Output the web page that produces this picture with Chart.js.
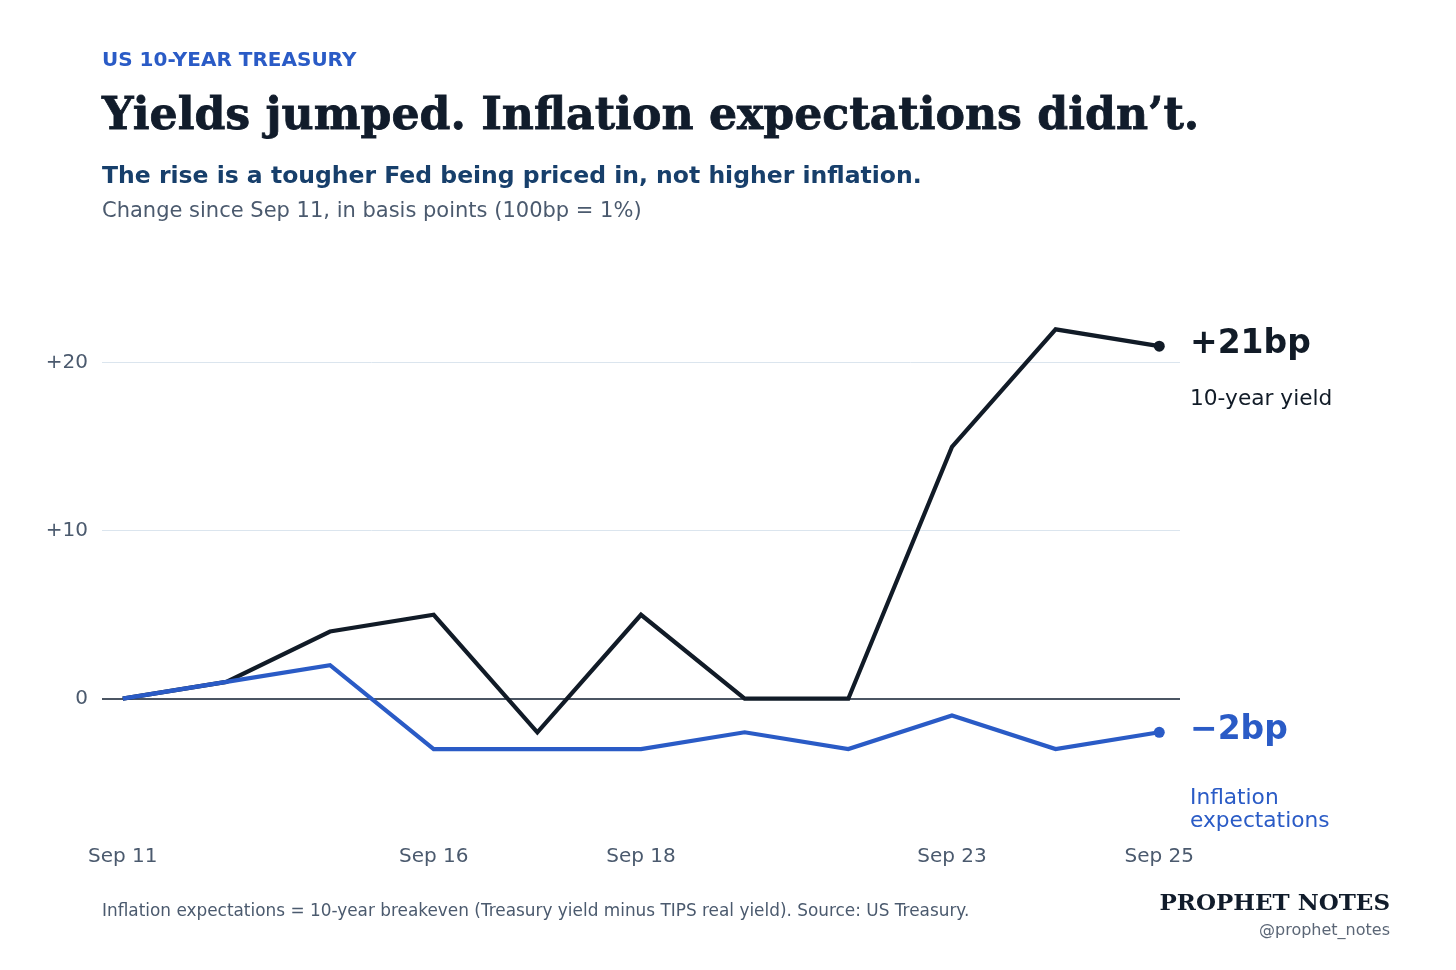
<!DOCTYPE html>
<html>
<head>
<meta charset="utf-8">
<script src="https://cdn.jsdelivr.net/npm/chart.js@4.4.1/dist/chart.umd.min.js"></script>
<style>
  html, body { margin: 0; padding: 0; background: #ffffff; }
  body { width: 1456px; height: 970px; position: relative; overflow: hidden; font-family: "DejaVu Sans", sans-serif; }
  #chart { position: absolute; left: 0; top: 0; }
  .txt { position: absolute; white-space: nowrap; }
  .kicker { left: 102px; top: 47px; font-size: 20px; font-weight: bold; color: #2a5bc6; }
  .title { left: 102px; top: 87px; font-family: "DejaVu Serif", serif; font-size: 44.2px; font-weight: bold; color: #111c2b; -webkit-text-stroke: 0.8px #111c2b; }
  .sub { left: 102px; top: 161px; font-size: 23.5px; font-weight: bold; color: #173f6b; }
  .note { left: 102px; top: 198px; font-size: 21px; color: #4b5a6e; }
  .foot { left: 102px; top: 900px; font-size: 16.9px; color: #4b5a6e; }
  .brand { right: 66px; top: 888px; font-family: "DejaVu Serif", serif; font-size: 23px; font-weight: bold; color: #111c2b; }
  .handle { right: 66px; top: 920px; font-size: 16px; color: #5b6676; }
</style>
</head>
<body>
<canvas id="chart" width="1456" height="970"></canvas>
<div class="txt kicker">US 10-YEAR TREASURY</div>
<div class="txt title">Yields jumped. Inflation expectations didn’t.</div>
<div class="txt sub">The rise is a tougher Fed being priced in, not higher inflation.</div>
<div class="txt note">Change since Sep 11, in basis points (100bp = 1%)</div>
<div class="txt foot">Inflation expectations = 10-year breakeven (Treasury yield minus TIPS real yield). Source: US Treasury.</div>
<div class="txt brand">PROPHET NOTES</div>
<div class="txt handle">@prophet_notes</div>
<script>
// Trading days since Sep 11
const days = ['Sep 11', 'Sep 12', 'Sep 15', 'Sep 16', 'Sep 17', 'Sep 18', 'Sep 19', 'Sep 22', 'Sep 23', 'Sep 24', 'Sep 25'];
// Change in basis points
const yield10 = [0, 1, 4, 5, -2, 5, 0, 0, 15, 22, 21];
const breakeven = [0, 1, 2, -3, -3, -3, -2, -3, -1, -3, -2];
// Axis ticks
const xTickIdx = [0, 3, 5, 8, 10];
const yTicks = [0, 10, 20];

const BLACK = '#111b27';
const BLUE = '#2a5bc6';
const SLATE = '#4b5a6e';

// End-of-line value labels
const endLabels = {
  id: 'endLabels',
  afterDatasetsDraw(chart) {
    const { ctx } = chart;
    const items = [
      { ds: 0, color: BLACK, value: '+21bp', name: ['10-year yield'], nameGap: 55 },
      { ds: 1, color: BLUE, value: '\u22122bp', name: ['Inflation', 'expectations'], nameGap: 68 }
    ];
    ctx.save();
    items.forEach(it => {
      const meta = chart.getDatasetMeta(it.ds);
      const pt = meta.data[meta.data.length - 1];
      // dot
      ctx.fillStyle = it.color;
      ctx.beginPath();
      ctx.arc(pt.x, pt.y, 5.5, 0, Math.PI * 2);
      ctx.fill();
      // value
      const x = chart.chartArea.right + 10;
      const y = pt.y - 2;
      ctx.textAlign = 'left';
      ctx.textBaseline = 'middle';
      ctx.font = 'bold 33px "DejaVu Sans"';
      ctx.fillText(it.value, x, y);
      ctx.font = '21.7px "DejaVu Sans"';
      it.name.forEach((line, i) => {
        ctx.fillText(line, x, y + it.nameGap + i * 23);
      });
    });
    ctx.restore();
  }
};

new Chart(document.getElementById('chart'), {
  type: 'line',
  data: {
    datasets: [
      {
        label: '10-year yield',
        data: yield10.map((v, i) => ({ x: i, y: v })),
        borderColor: BLACK,
        borderWidth: 4.2,
        pointRadius: 0,
        tension: 0,
        order: 2
      },
      {
        label: 'Inflation expectations',
        data: breakeven.map((v, i) => ({ x: i, y: v })),
        borderColor: BLUE,
        borderWidth: 4.2,
        pointRadius: 0,
        tension: 0,
        order: 1
      }
    ]
  },
  options: {
    responsive: false,
    animation: false,
    devicePixelRatio: 1,
    layout: { padding: { left: 30, right: 276, top: 279, bottom: 97 } },
    plugins: {
      legend: { display: false },
      tooltip: { enabled: false }
    },
    scales: {
      x: {
        type: 'linear',
        min: -0.2,
        max: 10.2,
        afterBuildTicks: s => { s.ticks = xTickIdx.map(v => ({ value: v })); },
        afterFit: s => { s.height = 40; },
        grid: { display: false, drawTicks: false },
        border: { display: false },
        ticks: {
          padding: 12,
          color: SLATE,
          font: { family: 'DejaVu Sans', size: 20 },
          maxRotation: 0,
          autoSkip: false,
          callback: v => days[v]
        }
      },
      y: {
        min: -8,
        max: 25,
        afterBuildTicks: s => { s.ticks = yTicks.map(v => ({ value: v })); },
        afterFit: s => { s.width = 72; },
        grid: {
          drawTicks: false,
          color: c => c.tick.value === 0 ? '#4b5563' : '#dbe5ee',
          lineWidth: c => c.tick.value === 0 ? 2 : 1
        },
        border: { display: false },
        ticks: {
          padding: 14,
          color: SLATE,
          font: { family: 'DejaVu Sans', size: 20 },
          callback: v => v > 0 ? '+' + v : String(v)
        }
      }
    }
  },
  plugins: [endLabels]
});
</script>
</body>
</html>
